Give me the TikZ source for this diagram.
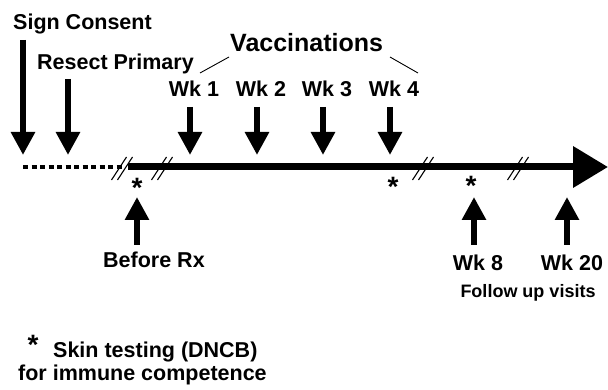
\documentclass[tikz,border=0pt]{standalone}
\usepackage{fontspec}
\setmainfont{Liberation Sans}
\usetikzlibrary{arrows.meta}
\begin{document}
\begin{tikzpicture}[x=1pt,y=-1pt,
  lbl/.style={font=\fontsize{21.5}{24}\selectfont\bfseries, inner sep=0pt},
  biglbl/.style={font=\fontsize{25}{28}\selectfont\bfseries, inner sep=0pt},
  smalllbl/.style={font=\fontsize{18}{20}\selectfont\bfseries, inner sep=0pt},
  star/.style={font=\fontsize{28}{30}\selectfont\bfseries, inner sep=0pt, anchor=base},
  blockarrow/.style={line width=6pt, -{Triangle[length=23pt,width=23pt]}},
  timeline/.style={line width=7pt, -{Triangle[length=35pt,width=40pt]}},
  dotline/.style={line width=4pt, dash pattern=on 5pt off 3.5pt},
  slash/.style={line width=1.1pt},
  thinline/.style={line width=0.9pt}]
\useasboundingbox (0,0) rectangle (608,390);

% timeline
\coordinate (d0) at (23,167);
\coordinate (d1) at (124,167);
\coordinate (t0) at (128,167);
\coordinate (t1) at (608,167);
\draw[dotline] (d0) -- (d1);
\draw[timeline] (t0) -- (t1);

% break marks
\foreach \cx in {122,162,423,518}{
  \foreach \i in {0,1}{
    \draw[slash] (\cx-10.5+6*\i,180) -- (\cx+4.5+6*\i,157);
  }
}

% top labels and arrows
\node[lbl, anchor=base west] (sign) at (13,30) {Sign Consent};
\coordinate (signA) at (23,40);
\coordinate (signB) at (23,155);
\draw[blockarrow] (signA) -- (signB);

\node[lbl, anchor=base west] (resect) at (37,70) {Resect Primary};
\coordinate (resA) at (68,79);
\coordinate (resB) at (68,155);
\draw[blockarrow] (resA) -- (resB);

\node[biglbl, anchor=base west] (vacc) at (230,52) {Vaccinations};
\coordinate (vl0) at (229,57);
\coordinate (vl1) at (200,73);
\coordinate (vr0) at (390,57);
\coordinate (vr1) at (418,73);
\draw[thinline] (vl0) -- (vl1);
\draw[thinline] (vr0) -- (vr1);

\foreach \x/\t/\n in {190/1/a,257/2/b,323/3/c,390/4/d}{
  \node[lbl, anchor=base] (wk\n) at (\x+4,97) {Wk \t};
  \coordinate (wk\n A) at (\x,107);
  \coordinate (wk\n B) at (\x,155);
  \draw[blockarrow] (wk\n A) -- (wk\n B);
}

% asterisks on timeline
\node[star] (s1) at (137,198) {*};
\node[star] (s2) at (393,197) {*};
\node[star] (s3) at (471,196) {*};

% up arrows
\foreach \x/\n in {137/br,474/w8,567/w20}{
  \coordinate (\n A) at (\x,245);
  \coordinate (\n B) at (\x,197);
  \draw[blockarrow] (\n A) -- (\n B);
}
\node[lbl, anchor=base west] (before) at (103,268) {Before Rx};
\node[lbl, anchor=base] (wk8) at (478,270) {Wk 8};
\node[lbl, anchor=base] (wk20) at (572,270) {Wk 20};
\node[smalllbl, anchor=base] (follow) at (528,298) {Follow up visits};

% legend
\node[star] (s4) at (33,354) {*};
\node[lbl, anchor=base west] (skin) at (53,357) {Skin testing (DNCB)};
\node[lbl, anchor=base west] (immune) at (18,380) {for immune competence};
\end{tikzpicture}
\end{document}
